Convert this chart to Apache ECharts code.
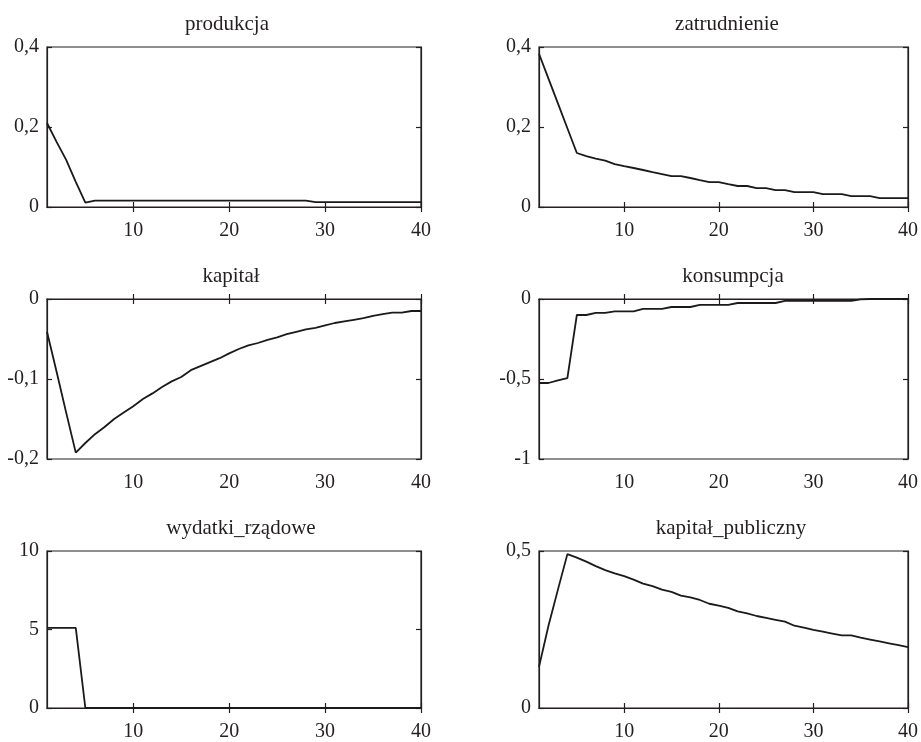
<!DOCTYPE html>
<html>
<head>
<meta charset="utf-8">
<script src="https://cdn.jsdelivr.net/npm/echarts@6/dist/echarts.min.js"></script>
<style>
  html, body { margin: 0; padding: 0; background: #fff; }
  #chart { width: 921px; height: 742px; }
</style>
</head>
<body>
<div id="chart"></div>
<script>
// okresy (oś x)
var okresy = [1,2,3,4,5,6,7,8,9,10,11,12,13,14,15,16,17,18,19,20,
              21,22,23,24,25,26,27,28,29,30,31,32,33,34,35,36,37,38,39,40];
var xTicks = [10, 20, 30, 40];

var tytuly = ['produkcja', 'zatrudnienie', 'kapitał', 'konsumpcja', 'wydatki_rządowe', 'kapitał_publiczny'];

var produkcja = [0.21,0.163,0.118,0.063,0.011,0.016,0.016,0.016,0.016,0.016,
                 0.016,0.016,0.016,0.016,0.016,0.016,0.016,0.016,0.016,0.016,
                 0.016,0.016,0.016,0.016,0.016,0.016,0.016,0.016,0.012,0.012,
                 0.012,0.012,0.012,0.012,0.012,0.012,0.012,0.012,0.012,0.012];
var zatrudnienie = [0.383,0.321,0.259,0.197,0.135,0.127,0.121,0.116,0.107,0.102,
                    0.0975,0.0925,0.087,0.082,0.077,0.077,0.0725,0.067,0.062,0.062,
                    0.057,0.0525,0.0525,0.047,0.047,0.042,0.042,0.037,0.037,0.037,
                    0.032,0.032,0.032,0.027,0.027,0.027,0.022,0.022,0.022,0.022];
var kapital = [-0.041,-0.091,-0.142,-0.192,-0.180,-0.169,-0.160,-0.150,-0.142,-0.134,
               -0.125,-0.118,-0.110,-0.103,-0.0975,-0.089,-0.084,-0.079,-0.074,-0.068,
               -0.0625,-0.058,-0.055,-0.051,-0.048,-0.044,-0.041,-0.038,-0.036,-0.033,
               -0.030,-0.028,-0.026,-0.024,-0.021,-0.019,-0.017,-0.017,-0.015,-0.015];
var konsumpcja = [-0.525,-0.525,-0.508,-0.494,-0.10,-0.10,-0.087,-0.087,-0.077,-0.077,
                  -0.077,-0.062,-0.062,-0.062,-0.05,-0.05,-0.05,-0.037,-0.037,-0.037,
                  -0.037,-0.025,-0.025,-0.025,-0.025,-0.025,-0.012,-0.012,-0.012,-0.012,
                  -0.012,-0.012,-0.012,-0.012,-0.002,0,0,0,0,0];
var wydatki = [5.1,5.1,5.1,5.1,0,0,0,0,0,0,
               0,0,0,0,0,0,0,0,0,0,
               0,0,0,0,0,0,0,0,0,0,
               0,0,0,0,0,0,0,0,0,0];
var kapitalPubliczny = [0.131,0.262,0.377,0.49,0.479,0.466,0.452,0.439,0.429,0.420,
                        0.409,0.396,0.388,0.377,0.370,0.358,0.352,0.344,0.332,0.326,
                        0.319,0.308,0.301,0.293,0.287,0.281,0.275,0.262,0.256,0.249,
                        0.243,0.237,0.231,0.231,0.224,0.218,0.212,0.206,0.200,0.194];

// zakresy i podziałki osi y
var yMin = [0, 0, -0.2, -1, 0, 0];
var yMax = [0.4, 0.4, 0, 0, 10, 0.5];
var yStep = [0.2, 0.2, 0.1, 0.5, 5, 0.5];

var serie = [produkcja, zatrudnienie, kapital, konsumpcja, wydatki, kapitalPubliczny];

var chart = echarts.init(document.getElementById('chart'), null, { renderer: 'canvas' });

var FONT = '"Liberation Serif", "DejaVu Serif", serif';
var INK = '#231f20';
var lefts = [47, 539];
var tops = [47, 299, 551];
var W = 374, H = 160;
var titleX = [222, 722, 226, 728, 236, 726];

var grid = [], xAxis = [], yAxis = [], series = [], title = [];

for (var i = 0; i < 6; i++) {
  var col = i % 2, row = Math.floor(i / 2);
  grid.push({
    left: lefts[col], top: tops[row], width: W, height: H,
    show: true, borderColor: INK, borderWidth: 1.2, backgroundColor: 'transparent'
  });
  title.push({
    text: tytuly[i],
    left: titleX[i], top: tops[row] - 38,
    textAlign: 'center',
    textStyle: { fontFamily: FONT, fontSize: 21, fontWeight: 'normal', color: INK }
  });
  var lineOpt = { show: true, lineStyle: { color: INK, width: 1.2 } };
  var tickOpt = { show: true, inside: true, length: 5, lineStyle: { color: INK, width: 1.2 }, customValues: xTicks };
  // dolna oś x
  xAxis.push({
    gridIndex: i, type: 'value', min: 1, max: 40, position: 'bottom',
    axisLine: lineOpt, axisTick: tickOpt, splitLine: { show: false },
    axisLabel: { customValues: xTicks, margin: 14, fontFamily: FONT, fontSize: 20, color: INK }
  });
  // górna oś x (tylko znaczniki)
  xAxis.push({
    gridIndex: i, type: 'value', min: 1, max: 40, position: 'top',
    axisLine: lineOpt, axisTick: tickOpt, splitLine: { show: false },
    axisLabel: { show: false }
  });
  var yTick = { show: true, inside: true, length: 5, lineStyle: { color: INK, width: 1.2 } };
  yAxis.push({
    gridIndex: i, type: 'value', min: yMin[i], max: yMax[i], interval: yStep[i], position: 'left',
    axisLine: lineOpt, axisTick: yTick, splitLine: { show: false },
    axisLabel: {
      margin: 8, fontFamily: FONT, fontSize: 20, color: INK,
      formatter: function (v) { return String(+v.toFixed(2)).replace('.', ','); }
    }
  });
  yAxis.push({
    gridIndex: i, type: 'value', min: yMin[i], max: yMax[i], interval: yStep[i], position: 'right',
    axisLine: lineOpt, axisTick: yTick, splitLine: { show: false },
    axisLabel: { show: false }
  });
  series.push({
    type: 'line',
    xAxisIndex: i * 2, yAxisIndex: i * 2,
    data: okresy.map(function (x, k) { return [x, serie[i][k]]; }),
    showSymbol: false,
    lineStyle: { color: '#1a1a1a', width: 1.8 },
    animation: false
  });
}

chart.setOption({
  backgroundColor: '#fff',
  animation: false,
  title: title,
  grid: grid,
  xAxis: xAxis,
  yAxis: yAxis,
  series: series
});
</script>
</body>
</html>
